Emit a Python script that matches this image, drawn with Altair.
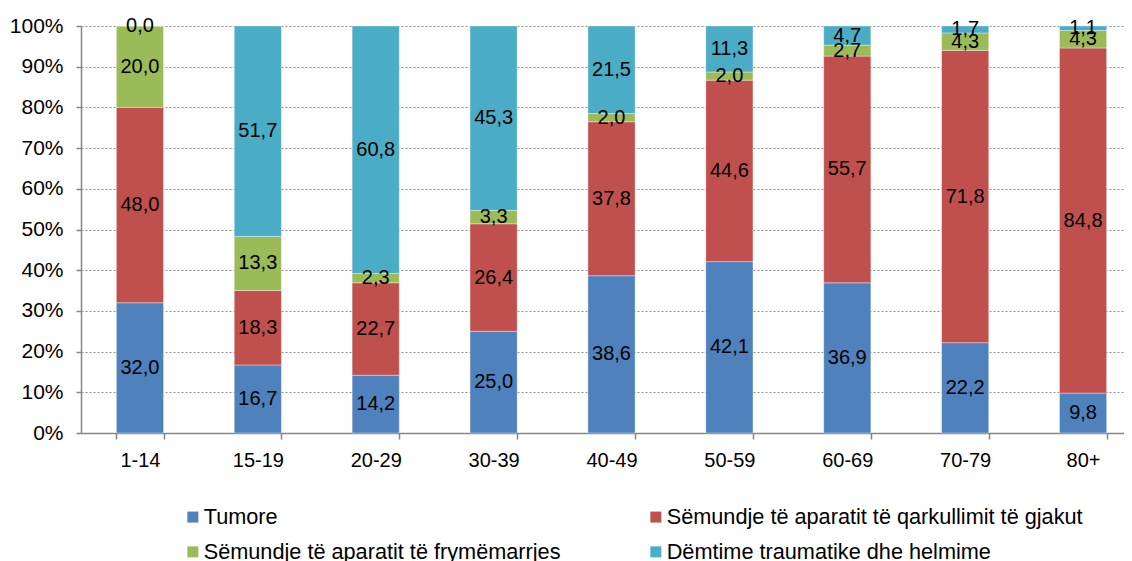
import altair as alt
import pandas as pd

categories = ["1-14", "15-19", "20-29", "30-39", "40-49", "50-59", "60-69", "70-79", "80+"]
series = [
    "Tumore",
    "Sëmundje të aparatit të qarkullimit të gjakut",
    "Sëmundje të aparatit të frymëmarrjes",
    "Dëmtime traumatike dhe helmime",
]
colors = ["#4F81BD", "#C0504D", "#9BBB59", "#4BACC6"]

tumore = [32.0, 16.7, 14.2, 25.0, 38.6, 42.1, 36.9, 22.2, 9.8]
qarkullimi = [48.0, 18.3, 22.7, 26.4, 37.8, 44.6, 55.7, 71.8, 84.8]
frymemarrja = [20.0, 13.3, 2.3, 3.3, 2.0, 2.0, 2.7, 4.3, 4.3]
demtime = [0.0, 51.7, 60.8, 45.3, 21.5, 11.3, 4.7, 1.7, 1.1]

rows = []
for si, (name, vals) in enumerate(zip(series, [tumore, qarkullimi, frymemarrja, demtime])):
    for c, v in zip(categories, vals):
        rows.append({"cat": c, "series": name, "order": si, "value": v})
df = pd.DataFrame(rows)

FONT = "Liberation Sans"

base = alt.Chart(df).transform_stack(
    stack="value",
    groupby=["cat"],
    as_=["y0", "y1"],
    offset="normalize",
    sort=[alt.SortField("order", order="ascending")],
).transform_calculate(
    mid="(datum.y0 + datum.y1) / 2",
    label="replace(format(datum.value, '.1f'), '.', ',')",
)

xscale = alt.Scale(paddingInner=0.6, paddingOuter=0.3, range=[0, 1061])

x_enc = alt.X(
    "cat:N",
    sort=categories,
    scale=xscale,
    axis=alt.Axis(
        title=None,
        labelAngle=0,
        tickBand="extent",
        grid=False,
        domainColor="#868686",
        domainWidth=1.5,
        tickColor="#868686",
        tickWidth=1.5,
        tickSize=6,
        labelPadding=11,
        labelFont=FONT,
        labelFontSize=20,
        labelColor="black",
    ),
)

bars = base.mark_bar(stroke="white", strokeWidth=0.6, strokeOpacity=0.6).encode(
    x=x_enc,
    y=alt.Y(
        "y0:Q",
        scale=alt.Scale(domain=[0, 1], nice=False),
        axis=alt.Axis(
            title=None,
            format="%",
            values=[i / 10 for i in range(11)],
            grid=True,
            gridColor="#8c8c8c",
            gridDash=[2, 2],
            gridWidth=1,
            domainColor="#868686",
            domainWidth=1.5,
            tickColor="#868686",
            tickWidth=1.5,
            tickSize=5,
            labelPadding=13,
            labelFont=FONT,
            labelFontSize=21,
            labelColor="black",
        ),
    ),
    y2="y1:Q",
    color=alt.Color(
        "series:N",
        scale=alt.Scale(domain=series, range=colors),
        legend=alt.Legend(
            title=None,
            orient="none",
            direction="horizontal",
            legendX=101,
            legendY=480,
            columns=2,
            columnPadding=84,
            rowPadding=12,
            symbolType="square",
            symbolSize=121,
            symbolStrokeWidth=0,
            labelFont=FONT,
            labelFontSize=21.7,
            labelColor="black",
            labelLimit=0,
            labelOffset=0,
            padding=0,
        ),
    ),
)

texts = base.mark_text(
    font=FONT, fontSize=20, color="black", baseline="middle", align="center"
).encode(
    x=alt.X("cat:N", sort=categories, scale=xscale),
    y=alt.Y("mid:Q"),
    text="label:N",
)

chart = (
    alt.layer(bars, texts)
    .properties(
        width=1043,
        height=407,
        padding={"left": 73, "top": 18, "right": 0, "bottom": 128},
        autosize=alt.AutoSizeParams(type="none"),
    )
    .configure_view(stroke=None)
)

chart.save("out.html", embed_options={"renderer": "svg", "actions": False})
